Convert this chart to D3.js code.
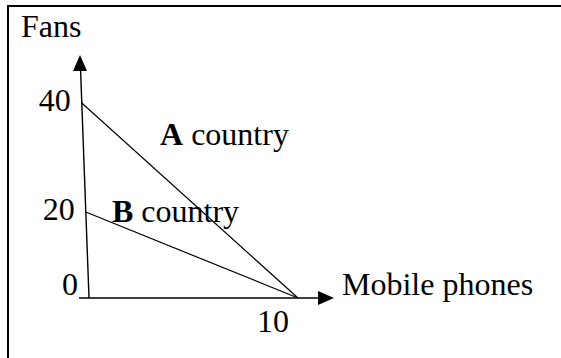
<!DOCTYPE html>
<html>
<head>
<meta charset="utf-8">
<style>
  body { margin: 0; background: #fff; }
</style>
</head>
<body>
<div id="chart"></div>
<script src="https://d3js.org/d3.v7.min.js"></script>
<script>
  // Values
  const yTicks = [0, 20, 40];
  const xTicks = [10];
  const countries = ['A', 'B'];
  const fansMax = [40, 20];      // fans produced with no phones
  const phonesMax = [10, 10];    // phones produced with no fans

  const width = 561;
  const height = 358;

  const svg = d3.select('#chart')
    .append('svg')
    .attr('width', width)
    .attr('height', height)
    .attr('font-family', "'Liberation Serif', 'Times New Roman', 'DejaVu Serif', serif")
    .attr('font-size', 32);

  // frame (only the left and top edges show in the crop)
  svg.append('path')
    .attr('d', 'M8,360 V6 H563')
    .attr('fill', 'none')
    .attr('stroke', '#000')
    .attr('stroke-width', 2);

  const xScale = d3.scaleLinear()
    .domain([0, 10])
    .range([89, 298]);

  // hand drawn figure: spacing between 0-20 and 20-40 is not even
  const yScale = d3.scaleLinear()
    .domain([0, 20, 40])
    .range([298, 212, 103]);

  // the vertical axis leans slightly to the left
  const lean = 0.037;
  const axisX = y => xScale(0) - lean * (yScale(0) - y);

  const yTop = 55;
  const xEnd = 334;

  // y axis
  svg.append('line')
    .attr('x1', axisX(yScale(0)))
    .attr('y1', yScale(0))
    .attr('x2', axisX(yTop + 10))
    .attr('y2', yTop + 10)
    .attr('stroke', '#000')
    .attr('stroke-width', 1.4);

  svg.append('path')
    .attr('d', `M${axisX(yTop)},${yTop} L${axisX(yTop) - 7},${yTop + 16} L${axisX(yTop) + 7},${yTop + 16} Z`)
    .attr('fill', '#000');

  // x axis
  svg.append('line')
    .attr('x1', xScale(0) - 10)
    .attr('y1', yScale(0))
    .attr('x2', xEnd - 10)
    .attr('y2', yScale(0))
    .attr('stroke', '#000')
    .attr('stroke-width', 1.6);

  svg.append('path')
    .attr('d', `M${xEnd},${yScale(0)} L${xEnd - 16},${yScale(0) - 7} L${xEnd - 16},${yScale(0) + 7} Z`)
    .attr('fill', '#000');

  // production possibility lines
  svg.selectAll('.ppf')
    .data(countries)
    .enter()
    .append('line')
    .attr('class', 'ppf')
    .attr('x1', (d, i) => axisX(yScale(fansMax[i])))
    .attr('y1', (d, i) => yScale(fansMax[i]))
    .attr('x2', (d, i) => xScale(phonesMax[i]))
    .attr('y2', yScale(0))
    .attr('stroke', '#000')
    .attr('stroke-width', 1.2);

  // tick labels
  svg.selectAll('.ytick')
    .data(yTicks)
    .enter()
    .append('text')
    .attr('class', 'ytick')
    .attr('x', d => axisX(yScale(d)) - 11)
    .attr('y', d => yScale(d))
    .attr('dy', d => d === 0 ? -3 : 8)
    .attr('text-anchor', 'end')
    .text(d => d);

  svg.selectAll('.xtick')
    .data(xTicks)
    .enter()
    .append('text')
    .attr('class', 'xtick')
    .attr('x', d => xScale(d) - 9)
    .attr('y', yScale(0) + 34)
    .attr('text-anchor', 'end')
    .text(d => d);

  // axis titles
  svg.append('text')
    .attr('x', 21)
    .attr('y', 37)
    .text('Fans');

  svg.append('text')
    .attr('x', 342)
    .attr('y', 295)
    .text('Mobile phones');

  // country labels
  const labelPos = [[3.4, 32.3], [1.1, 17.7]];
  countries.forEach((c, i) => {
    const t = svg.append('text')
      .attr('x', xScale(labelPos[i][0]))
      .attr('y', yScale(labelPos[i][1]));
    t.append('tspan').attr('font-weight', 'bold').text(c);
    t.append('tspan').text(' country');
  });
</script>
</body>
</html>
